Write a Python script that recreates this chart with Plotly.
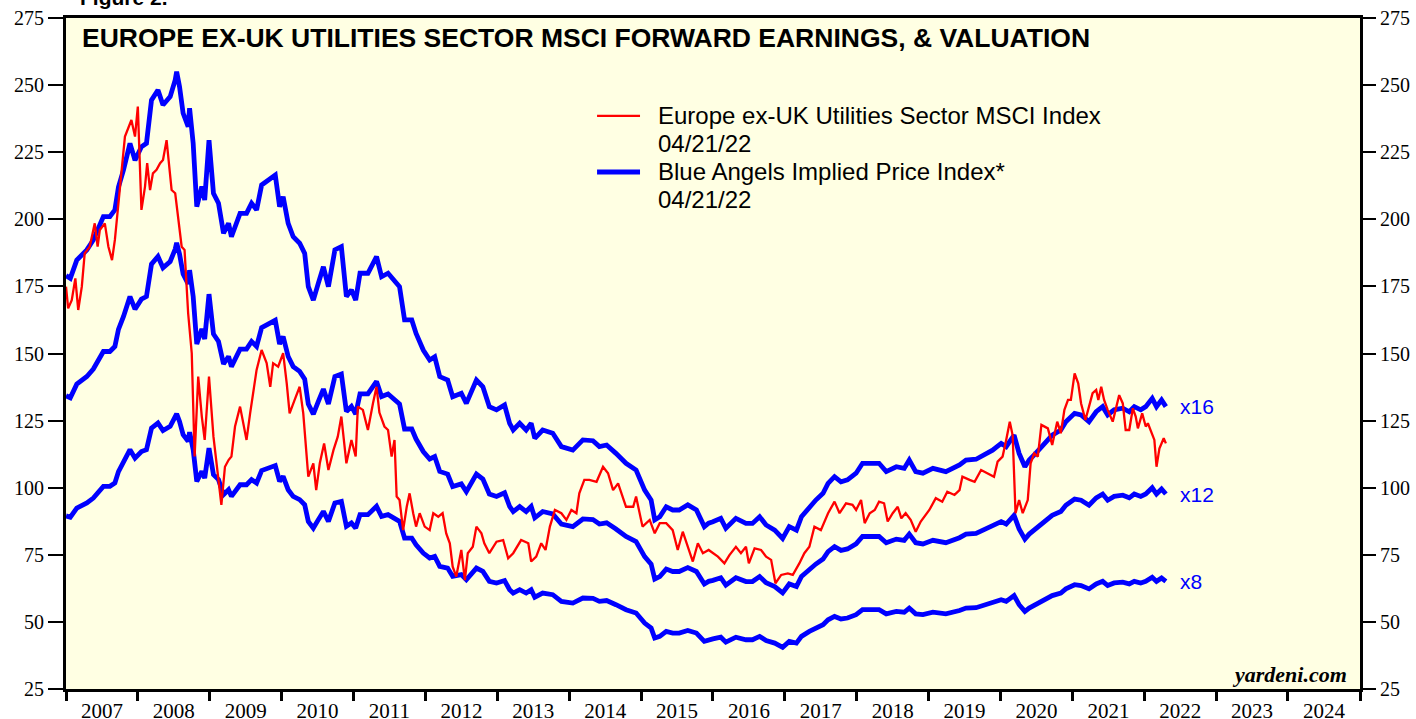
import plotly.graph_objects as go
import pandas as pd

# ---------------- data ----------------
# Europe ex-UK Utilities Sector MSCI Index (decimal year, index level)
red_years = [2007.00, 2007.03, 2007.08, 2007.13, 2007.17, 2007.22, 2007.26, 2007.33, 2007.40, 2007.44,
             2007.47, 2007.54, 2007.59, 2007.64, 2007.68, 2007.73, 2007.77, 2007.82, 2007.87, 2007.91,
             2007.96, 2008.00, 2008.05, 2008.10, 2008.13, 2008.17, 2008.21, 2008.26, 2008.31, 2008.35,
             2008.40, 2008.42, 2008.47, 2008.52, 2008.56, 2008.61, 2008.65, 2008.70, 2008.75, 2008.79,
             2008.84, 2008.89, 2008.93, 2008.99, 2009.05, 2009.09, 2009.13, 2009.16, 2009.21, 2009.26,
             2009.30, 2009.35, 2009.42, 2009.46, 2009.51, 2009.56, 2009.60, 2009.65, 2009.72, 2009.79,
             2009.84, 2009.88, 2009.95, 2010.02, 2010.07, 2010.11, 2010.18, 2010.25, 2010.30, 2010.37,
             2010.44, 2010.48, 2010.53, 2010.59, 2010.65, 2010.72, 2010.78, 2010.83, 2010.90, 2010.97,
             2011.03, 2011.06, 2011.13, 2011.20, 2011.27, 2011.32, 2011.36, 2011.43, 2011.48, 2011.53,
             2011.57, 2011.60, 2011.64, 2011.69, 2011.74, 2011.78, 2011.83, 2011.87, 2011.92, 2011.99,
             2012.06, 2012.11, 2012.18, 2012.24, 2012.29, 2012.34, 2012.38, 2012.43, 2012.50, 2012.55,
             2012.59, 2012.66, 2012.71, 2012.78, 2012.82, 2012.89, 2012.99, 2013.08, 2013.15, 2013.22,
             2013.33, 2013.43, 2013.47, 2013.54, 2013.61, 2013.67, 2013.73, 2013.80, 2013.89, 2013.96,
             2014.03, 2014.10, 2014.14, 2014.21, 2014.28, 2014.38, 2014.47, 2014.54, 2014.61, 2014.68,
             2014.79, 2014.89, 2014.93, 2015.02, 2015.12, 2015.19, 2015.26, 2015.35, 2015.44, 2015.51,
             2015.58, 2015.67, 2015.72, 2015.79, 2015.86, 2015.94, 2016.07, 2016.16, 2016.23, 2016.32,
             2016.39, 2016.46, 2016.50, 2016.58, 2016.67, 2016.74, 2016.81, 2016.87, 2016.95, 2017.04,
             2017.11, 2017.20, 2017.27, 2017.34, 2017.41, 2017.50, 2017.60, 2017.69, 2017.76, 2017.85,
             2017.94, 2017.99, 2018.06, 2018.11, 2018.18, 2018.25, 2018.31, 2018.38, 2018.43, 2018.50,
             2018.57, 2018.62, 2018.68, 2018.75, 2018.82, 2018.89, 2019.01, 2019.10, 2019.19, 2019.26,
             2019.36, 2019.43, 2019.47, 2019.57, 2019.64, 2019.73, 2019.82, 2019.91, 2019.96, 2020.03,
             2020.08, 2020.13, 2020.17, 2020.21, 2020.26, 2020.31, 2020.38, 2020.42, 2020.47, 2020.52,
             2020.57, 2020.66, 2020.72, 2020.79, 2020.84, 2020.89, 2020.94, 2020.98, 2021.03, 2021.08,
             2021.12, 2021.18, 2021.23, 2021.28, 2021.33, 2021.36, 2021.40, 2021.44, 2021.49, 2021.56,
             2021.60, 2021.65, 2021.70, 2021.74, 2021.79, 2021.84, 2021.88, 2021.91, 2021.97, 2022.02,
             2022.05, 2022.11, 2022.14, 2022.17, 2022.21, 2022.27, 2022.30]
red_values = [174.9, 166.8, 169.9, 178.0, 166.2, 174.9, 187.3, 189.8, 198.5, 189.8,
              196.0, 198.5, 189.8, 184.8, 192.3, 207.2, 217.1, 230.8, 234.5, 237.0,
              230.8, 242.0, 203.5, 212.2, 220.9, 210.9, 217.1, 218.4, 220.9, 222.1,
              229.5, 224.6, 210.9, 209.7, 201.0, 189.8, 188.6, 165.0, 150.1, 111.6,
              141.4, 126.5, 117.8, 141.4, 119.0, 110.3, 101.6, 93.6, 107.8, 110.3,
              111.6, 122.8, 130.2, 124.0, 117.8, 127.7, 135.2, 143.9, 151.3, 146.4,
              137.6, 146.4, 145.1, 150.1, 138.9, 127.7, 132.7, 137.6, 127.7, 104.1,
              109.1, 99.1, 109.1, 116.5, 106.6, 114.0, 119.0, 126.5, 109.1, 117.8,
              111.6, 130.2, 129.0, 121.5, 131.4, 137.6, 128.0, 122.8, 121.5, 111.6,
              117.8, 96.7, 95.4, 84.2, 92.9, 97.9, 90.5, 85.5, 90.5, 85.5,
              84.2, 90.5, 89.2, 90.5, 83.0, 79.3, 70.6, 66.9, 76.8, 65.6,
              75.6, 78.0, 85.5, 83.0, 79.3, 75.6, 79.9, 80.5, 73.7, 75.6,
              80.5, 79.3, 72.5, 74.3, 79.3, 76.8, 85.5, 91.7, 90.5, 88.0,
              91.7, 90.5, 97.9, 102.9, 102.9, 102.2, 107.8, 105.4, 99.1, 101.6,
              92.9, 92.9, 96.7, 85.5, 88.0, 83.0, 86.8, 86.8, 84.2, 76.8,
              83.6, 76.8, 72.5, 79.3, 75.6, 76.8, 74.3, 71.8, 74.9, 78.0,
              75.6, 78.0, 71.8, 77.4, 76.8, 74.3, 73.1, 64.4, 67.5, 68.1,
              67.5, 71.8, 75.6, 78.0, 85.5, 84.2, 90.5, 94.8, 90.5, 94.2,
              93.6, 91.7, 95.4, 86.8, 90.5, 91.7, 94.8, 94.2, 87.4, 90.5,
              92.9, 88.6, 90.5, 88.0, 83.6, 87.4, 91.7, 96.1, 94.8, 98.5,
              97.3, 99.1, 104.1, 102.9, 102.2, 106.6, 105.4, 104.1, 109.7, 111.6,
              117.8, 124.6, 119.5, 90.5, 95.4, 90.5, 95.4, 109.1, 112.8, 111.6,
              123.4, 122.1, 115.9, 124.6, 120.3, 129.0, 132.7, 132.7, 142.6, 138.9,
              131.4, 125.2, 130.2, 135.2, 136.4, 132.7, 137.6, 132.7, 129.0, 124.6,
              129.0, 134.5, 131.4, 121.5, 121.5, 129.6, 126.5, 122.1, 127.7, 122.8,
              124.0, 120.3, 117.8, 107.8, 114.6, 118.4, 116.5]

# Blue Angels implied price index at a 16x forward P/E (decimal year, level)
blue_years = [2007.00, 2007.06, 2007.15, 2007.29, 2007.38, 2007.52, 2007.61, 2007.68, 2007.73, 2007.80,
              2007.89, 2007.96, 2008.05, 2008.12, 2008.19, 2008.28, 2008.35, 2008.45, 2008.52, 2008.54,
              2008.58, 2008.63, 2008.70, 2008.72, 2008.77, 2008.82, 2008.89, 2008.93, 2008.99, 2009.05,
              2009.12, 2009.19, 2009.26, 2009.30, 2009.42, 2009.51, 2009.58, 2009.65, 2009.72, 2009.81,
              2009.91, 2009.97, 2010.02, 2010.09, 2010.16, 2010.25, 2010.32, 2010.37, 2010.44, 2010.51,
              2010.58, 2010.65, 2010.74, 2010.83, 2010.90, 2010.97, 2011.03, 2011.09, 2011.20, 2011.32,
              2011.39, 2011.48, 2011.55, 2011.64, 2011.71, 2011.81, 2011.87, 2011.97, 2012.06, 2012.13,
              2012.20, 2012.31, 2012.38, 2012.50, 2012.57, 2012.71, 2012.80, 2012.89, 2012.99, 2013.10,
              2013.17, 2013.22, 2013.31, 2013.40, 2013.47, 2013.52, 2013.63, 2013.77, 2013.89, 2014.05,
              2014.19, 2014.33, 2014.42, 2014.52, 2014.65, 2014.79, 2014.93, 2015.05, 2015.14, 2015.19,
              2015.26, 2015.35, 2015.44, 2015.53, 2015.65, 2015.77, 2015.88, 2015.94, 2016.00, 2016.11,
              2016.18, 2016.32, 2016.46, 2016.55, 2016.65, 2016.74, 2016.86, 2016.97, 2017.06, 2017.16,
              2017.23, 2017.34, 2017.43, 2017.53, 2017.60, 2017.69, 2017.78, 2017.87, 2017.99, 2018.08,
              2018.22, 2018.31, 2018.41, 2018.55, 2018.66, 2018.73, 2018.82, 2018.92, 2019.06, 2019.24,
              2019.43, 2019.52, 2019.66, 2019.80, 2019.89, 2020.01, 2020.08, 2020.19, 2020.26, 2020.34,
              2020.40, 2020.49, 2020.61, 2020.72, 2020.84, 2020.91, 2021.03, 2021.12, 2021.23, 2021.33,
              2021.42, 2021.49, 2021.58, 2021.70, 2021.79, 2021.86, 2021.95, 2022.02, 2022.11, 2022.17,
              2022.24, 2022.30]
implied_x16 = [179.0, 178.0, 184.8, 188.6, 192.3, 201.0, 201.0, 203.5, 212.0, 218.4,
               228.3, 222.0, 227.0, 228.3, 244.4, 248.2, 242.6, 245.7, 251.9, 255.0,
               249.4, 239.5, 234.5, 241.4, 228.3, 204.7, 212.2, 207.2, 229.5, 209.7,
               206.0, 194.8, 198.5, 193.5, 202.2, 202.2, 206.0, 203.5, 212.8, 214.6,
               216.5, 204.7, 208.4, 198.5, 193.5, 191.1, 187.3, 174.9, 169.9, 176.2,
               182.3, 174.9, 188.6, 189.8, 171.2, 173.7, 169.9, 179.9, 179.9, 186.1,
               178.6, 179.9, 177.4, 174.9, 162.5, 162.5, 157.5, 151.3, 147.6, 148.8,
               141.4, 140.1, 133.9, 135.2, 131.4, 140.1, 137.6, 130.2, 129.0, 130.8,
               124.0, 121.5, 124.0, 121.5, 124.0, 118.4, 121.5, 120.3, 115.3, 114.0,
               117.8, 117.5, 115.3, 115.9, 112.8, 109.1, 106.6, 99.1, 95.4, 88.0,
               89.2, 92.9, 91.7, 91.7, 93.6, 91.7, 85.5, 86.8, 87.3, 88.6,
               84.9, 88.6, 86.7, 86.7, 89.2, 86.1, 84.2, 81.1, 85.5, 84.2,
               89.2, 92.9, 95.4, 97.9, 101.6, 104.1, 102.2, 102.9, 105.4, 109.1,
               109.1, 109.1, 106.0, 107.8, 107.2, 110.3, 106.0, 105.4, 107.2, 106.0,
               108.5, 110.3, 110.6, 112.8, 114.0, 116.5, 115.3, 119.6, 112.8, 107.8,
               110.3, 112.8, 116.5, 119.6, 121.5, 124.6, 127.7, 127.1, 124.6, 128.3,
               130.2, 127.1, 129.0, 129.6, 128.3, 130.2, 129.0, 130.2, 133.3, 130.2,
               132.7, 130.2]

multiples = [16, 12, 8]
multiple_labels = ["x16", "x12", "x8"]
y_ticks = list(range(25, 276, 25))

title_text = "EUROPE EX-UK UTILITIES SECTOR MSCI FORWARD EARNINGS, & VALUATION"
red_name = "Europe ex-UK Utilities Sector MSCI Index"
blue_name = "Blue Angels Implied Price Index*"
as_of = "04/21/22"


def to_date(t):
    y = int(t)
    return pd.Timestamp(year=y, month=1, day=1) + pd.Timedelta(days=(t - y) * 365.25)


red_dates = [to_date(t) for t in red_years]
blue_dates = [to_date(t) for t in blue_years]
fwd_eps = [v / 16.0 for v in implied_x16]

RED = "#FF0000"
BLUE = "#0000FF"
SERIF = "Liberation Serif, Times New Roman, serif"
SANS = "Liberation Sans, Arial, sans-serif"

fig = go.Figure()
for m in multiples:
    fig.add_trace(go.Scatter(x=blue_dates, y=[e * m for e in fwd_eps], mode="lines",
                             line=dict(color=BLUE, width=4.8), name=blue_name,
                             showlegend=False, hoverinfo="x+y"))
fig.add_trace(go.Scatter(x=red_dates, y=red_values, mode="lines",
                         line=dict(color=RED, width=2.3), name=red_name,
                         showlegend=False, hoverinfo="x+y"))
# invisible trace on the right-hand axis so it is drawn
fig.add_trace(go.Scatter(x=[red_dates[0]], y=[red_values[0]], yaxis="y2", mode="lines",
                         line=dict(width=0), showlegend=False, hoverinfo="skip"))

x0 = pd.Timestamp("2007-01-01")
x1 = pd.Timestamp("2025-01-01")

fig.update_layout(
    width=1416, height=719,
    margin=dict(l=66, r=56, t=18, b=30, autoexpand=False),
    paper_bgcolor="white",
    plot_bgcolor="#FFFFE3",
    showlegend=False,
    xaxis=dict(
        type="date", range=[x0, x1], automargin=False,
        ticklabelmode="period", tickformat="%Y", dtick="M12", tick0="2007-01-01",
        ticks="outside", ticklen=9, tickwidth=3, tickcolor="black",
        ticklabelstandoff=-8,
        showline=True, linewidth=3, linecolor="black", mirror=True,
        showgrid=False, zeroline=False,
        tickfont=dict(family=SERIF, size=21, color="black"),
    ),
    yaxis=dict(
        range=[25, 275], tickvals=y_ticks, automargin=False,
        ticks="outside", ticklen=15, tickwidth=2, tickcolor="black",
        showline=True, linewidth=3, linecolor="black", mirror=True,
        showgrid=False, zeroline=False,
        tickfont=dict(family=SERIF, size=20, color="black"),
    ),
    yaxis2=dict(
        range=[25, 275], tickvals=y_ticks, overlaying="y", side="right", automargin=False,
        ticks="outside", ticklen=15, tickwidth=2, tickcolor="black",
        showline=False, showgrid=False, zeroline=False,
        tickfont=dict(family=SERIF, size=20, color="black"),
    ),
)

annotations = [
    dict(text="<b>Figure 2.</b>", xref="paper", yref="paper", x=0.0093, y=1.0104,
         xanchor="left", yanchor="bottom", showarrow=False,
         font=dict(family=SANS, size=21, color="black")),
    dict(text="<b>" + title_text + "</b>", xref="paper", yref="paper", x=0.0105, y=0.970,
         xanchor="left", yanchor="middle", showarrow=False,
         font=dict(family=SANS, size=26.5, color="black")),
    dict(text="<b><i>yardeni.com</i></b>", xref="paper", yref="paper", x=0.9915, y=0.021,
         xanchor="right", yanchor="middle", showarrow=False,
         font=dict(family=SERIF, size=22, color="black")),
]
# manual legend
legend_rows = [(red_name, 0.854), (as_of, 0.8137), (blue_name, 0.7705), (as_of, 0.7288)]
for txt, yy in legend_rows:
    annotations.append(dict(text=txt, xref="paper", yref="paper", x=0.456, y=yy,
                            xanchor="left", yanchor="middle", showarrow=False,
                            font=dict(family=SANS, size=24, color="black")))
# multiple labels at the end of each line
for m, lab in zip(multiples, multiple_labels):
    annotations.append(dict(text=lab, xref="x", yref="y", x=to_date(2022.47), y=fwd_eps[-1] * m,
                            xanchor="left", yanchor="middle", showarrow=False,
                            font=dict(family=SANS, size=21, color=BLUE)))
fig.update_layout(annotations=annotations)

fig.update_layout(shapes=[
    dict(type="line", xref="paper", yref="paper", x0=0.4104, x1=0.4436, y0=0.854, y1=0.854,
         line=dict(color=RED, width=2.3)),
    dict(type="line", xref="paper", yref="paper", x0=0.4104, x1=0.4436, y0=0.7705, y1=0.7705,
         line=dict(color=BLUE, width=4.8)),
])

# remove the default 8px page margin so the figure fills the 1416x719 window exactly
fig.write_html("out.html", config={"displayModeBar": False},
               post_script="document.body.style.margin='0';document.body.style.overflow='hidden';")
